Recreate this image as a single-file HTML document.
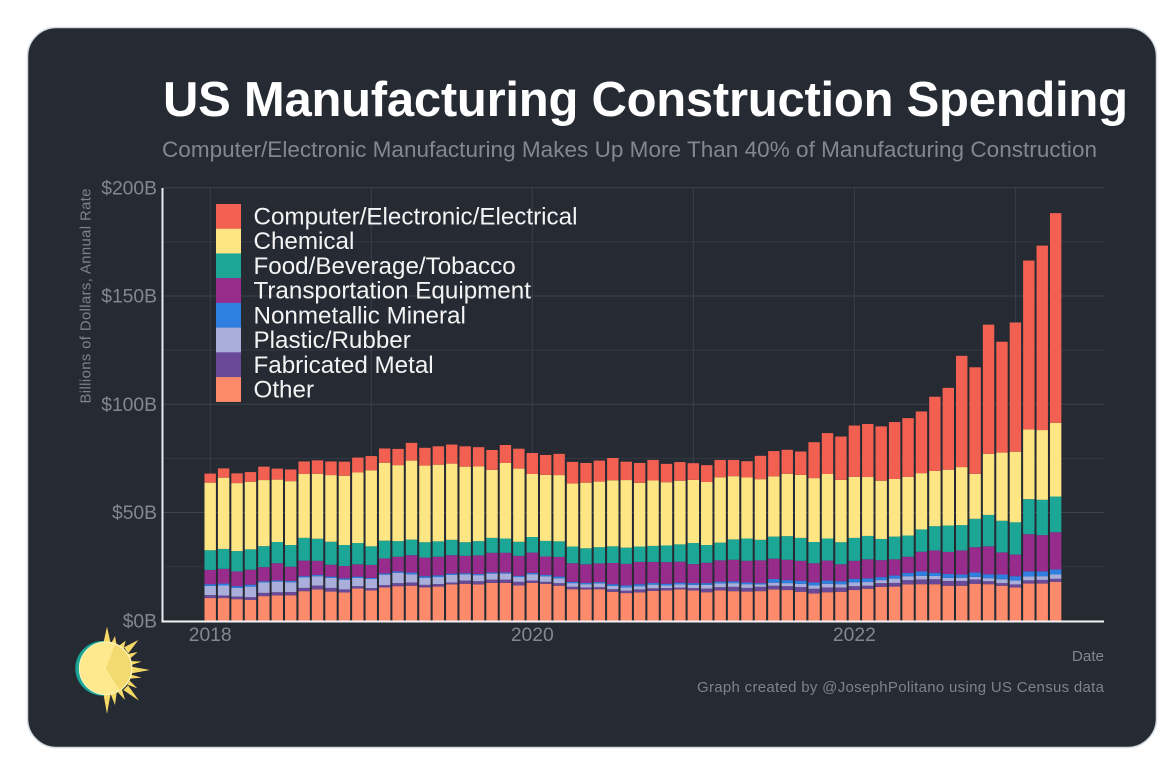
<!DOCTYPE html>
<html lang="en">
<head>
<meta charset="utf-8">
<title>US Manufacturing Construction Spending</title>
<style>
  html, body { margin: 0; padding: 0; width: 1172px; height: 770px; background: #ffffff; overflow: hidden; }
  svg { display: block; }
  text { font-family: "Liberation Sans", sans-serif; }
</style>
</head>
<body>
<svg id="chart" xmlns="http://www.w3.org/2000/svg" width="1172" height="770" viewBox="0 0 1172 770">
  <rect x="27.5" y="27.5" width="1129" height="720" rx="29" ry="29" fill="#252a33" stroke="#d3dbdf" stroke-width="1.5"/>
  <text x="163" y="116" font-size="49" font-weight="700" fill="#ffffff" textLength="965" lengthAdjust="spacing">US Manufacturing Construction Spending</text>
  <text x="162" y="157" font-size="22.5" fill="#84878e" textLength="935" lengthAdjust="spacing">Computer/Electronic Manufacturing Makes Up More Than 40% of Manufacturing Construction</text>
  <g id="grid"></g>
  <g id="bars"></g>
  <g id="axes"></g>
  <g id="legend"></g>
  <text transform="translate(90.5,296) rotate(-90)" text-anchor="middle" font-size="14.8" fill="#7f8289" textLength="215" lengthAdjust="spacing">Billions of Dollars, Annual Rate</text>
  <text x="1104" y="661" text-anchor="end" font-size="15.2" fill="#84878e">Date</text>
  <text x="1104" y="692" text-anchor="end" font-size="15" fill="#7f8289" textLength="407" lengthAdjust="spacing">Graph created by @JosephPolitano using US Census data</text>
  <g id="sun" transform="translate(60,610) scale(0.3333)">
    <circle cx="128" cy="175" r="82" fill="#1aa596"/>
    <polygon fill="#f6d965" points="130,100 141,50 152,100"/>
    <polygon fill="#f6d965" points="153,102 165,78 170,107"/>
    <polygon fill="#f6d965" points="176,108 197,92 190,120"/>
    <polygon fill="#f6d965" points="192,112 235,90 205,130"/>
    <polygon fill="#f6d965" points="203,132 233,126 210,146"/>
    <polygon fill="#f6d965" points="212,153 245,155 214,165"/>
    <polygon fill="#f6d965" points="214,170 270,180 214,190"/>
    <polygon fill="#f6d965" points="213,194 245,203 211,206"/>
    <polygon fill="#f6d965" points="209,212 232,235 202,224"/>
    <polygon fill="#f6d965" points="204,226 237,272 190,240"/>
    <polygon fill="#f6d965" points="186,238 195,270 174,247"/>
    <polygon fill="#f6d965" points="170,247 165,285 152,252"/>
    <polygon fill="#f6d965" points="152,250 141,312 130,250"/>
    <circle cx="137" cy="175" r="79" fill="#ffe98f" stroke="#fff4c0" stroke-width="3"/>
    <path d="M138,175 L165,104 A77,77 0 0 1 178,240 Z" fill="#f2da70"/>
  </g>
</svg>
<script>
const months = ["2018-01","2018-02","2018-03","2018-04","2018-05","2018-06","2018-07","2018-08","2018-09","2018-10","2018-11","2018-12",
"2019-01","2019-02","2019-03","2019-04","2019-05","2019-06","2019-07","2019-08","2019-09","2019-10","2019-11","2019-12",
"2020-01","2020-02","2020-03","2020-04","2020-05","2020-06","2020-07","2020-08","2020-09","2020-10","2020-11","2020-12",
"2021-01","2021-02","2021-03","2021-04","2021-05","2021-06","2021-07","2021-08","2021-09","2021-10","2021-11","2021-12",
"2022-01","2022-02","2022-03","2022-04","2022-05","2022-06","2022-07","2022-08","2022-09","2022-10","2022-11","2022-12",
"2023-01","2023-02","2023-03","2023-04"];

const other = [10.5,10.5,10.0,9.7,11.4,11.7,11.8,13.7,14.5,13.5,13.1,14.9,14.0,15.4,16.0,16.2,15.4,15.8,16.8,17.1,16.8,17.5,17.5,16.3,17.5,17.1,16.2,14.6,14.5,14.6,13.4,12.8,13.1,13.8,14.0,14.5,14.0,13.2,14.0,13.7,13.5,13.7,14.5,14.2,13.4,12.6,13.2,13.4,14.2,14.8,15.7,15.8,16.8,16.9,16.9,16.2,16.2,17.1,16.9,16.2,15.4,17.2,17.2,18.0];
const fabricatedMetal = [1.4,1.2,1.2,1.2,1.5,1.5,1.5,1.5,1.8,1.7,1.4,1.1,1.1,1.1,1.4,1.5,1.2,1.2,0.9,1.5,1.5,1.5,1.5,1.7,1.1,0.9,1.2,1.1,0.9,0.9,1.2,1.1,1.4,1.2,1.1,0.8,1.1,1.7,1.5,2.0,1.7,2.0,1.7,1.8,2.2,2.2,2.2,2.0,1.8,1.4,1.7,1.7,2.0,2.2,2.3,2.2,2.2,2.0,1.4,1.2,1.4,1.5,1.7,1.4];
const plasticRubber = [4.2,4.6,4.0,4.9,4.8,4.9,4.5,4.8,4.3,4.6,4.5,3.8,4.2,4.8,4.8,3.8,3.2,3.2,3.5,2.8,2.8,2.8,2.8,2.2,2.9,2.6,2.2,1.7,1.5,1.8,1.5,1.5,1.5,1.7,1.2,1.5,1.5,1.7,1.8,1.7,1.7,1.1,1.4,1.4,1.5,1.5,1.7,1.5,1.7,1.7,1.4,2.0,1.8,1.7,1.5,1.4,1.5,1.2,1.4,1.8,1.8,1.8,1.7,2.0];
const nonmetallicMineral = [0.8,0.9,0.8,0.9,0.6,0.5,0.6,0.6,0.6,0.6,0.6,0.6,0.5,0.6,0.6,0.8,0.8,0.8,0.6,0.6,0.5,0.5,0.5,0.6,0.6,0.6,0.8,0.6,0.6,0.6,0.8,0.9,0.9,0.8,0.8,0.8,0.8,0.8,0.8,0.8,0.8,0.6,1.7,1.4,1.4,1.4,1.5,1.4,1.7,1.7,1.4,1.4,1.5,2.0,1.5,1.8,1.5,2.0,1.8,2.2,2.0,2.3,2.2,2.3];
const transportation = [6.6,6.8,6.8,6.9,6.5,8.0,6.6,7.2,6.5,5.5,5.7,5.7,6.0,6.9,6.8,8.0,8.6,8.6,8.5,8.0,8.6,9.1,9.1,9.2,9.4,8.5,9.1,8.6,8.6,8.6,9.8,10.0,10.3,9.7,10.0,9.7,8.8,9.4,9.8,10.0,10.0,10.5,9.4,9.4,9.2,8.9,9.2,7.8,8.3,8.8,7.8,7.5,7.5,9.1,10.3,10.2,11.1,11.7,12.9,10.2,10.0,17.2,16.8,17.2];
const foodBeverage = [9.1,9.2,9.4,9.4,9.7,9.8,10.0,10.5,10.2,10.6,9.7,9.8,8.6,8.2,7.2,7.2,7.1,7.1,7.1,6.3,6.6,6.9,6.6,6.5,7.2,7.2,7.2,7.7,7.4,7.5,7.7,7.5,7.1,7.4,7.7,8.0,9.7,8.2,8.2,9.4,10.3,9.5,10.2,10.9,10.6,9.8,10.2,10.2,10.6,10.8,9.8,10.5,9.8,10.3,11.2,12.2,11.7,13.1,14.5,14.6,14.9,16.2,16.3,16.5];
const chemical = [31.2,32.9,31.4,31.2,30.5,28.8,29.5,29.5,30.0,30.8,32.0,32.6,35.1,36.0,35.1,36.5,35.4,35.4,35.2,34.9,34.5,31.4,34.9,33.8,29.1,30.5,30.6,29.1,30.3,30.3,30.5,31.2,29.4,30.2,29.2,29.4,29.2,29.1,30.2,29.2,28.2,28.0,27.8,28.8,29.1,29.5,29.8,28.8,28.2,27.2,26.9,26.6,27.1,26.0,25.5,25.8,26.8,20.8,28.2,31.5,32.6,32.2,32.2,34.0];
const computerElectronic = [4.2,4.3,4.5,4.5,6.2,5.1,5.4,5.8,6.2,6.3,6.5,6.9,6.6,6.6,7.5,8.2,8.2,8.5,8.8,9.4,8.9,9.2,8.3,9.2,9.7,9.2,9.8,10.0,9.1,9.7,10.3,8.5,9.2,9.5,8.5,8.6,7.7,7.8,8.0,7.5,7.5,10.8,11.7,11.1,10.8,16.6,18.9,20.0,23.7,24.5,25.1,26.3,27.1,28.5,34.3,37.8,51.4,49.2,59.7,51.2,59.7,78.0,85.2,96.9];

const seriesNames = ["Other","Fabricated Metal","Plastic/Rubber","Nonmetallic Mineral","Transportation Equipment","Food/Beverage/Tobacco","Chemical","Computer/Electronic/Electrical"];
const seriesColors = ["#fd8a6b","#6a4a98","#a9aedb","#2f7fe0","#982c8c","#1ba695","#fee685","#f26052"];
const seriesValues = [other,fabricatedMetal,plasticRubber,nonmetallicMineral,transportation,foodBeverage,chemical,computerElectronic];
const legendOrder = [7,6,5,4,3,2,1,0];
const yTicks = [0,50,100,150,200];
const yMinorTicks = [25,75,125,175];
const yTickLabels = ["$0B","$50B","$100B","$150B","$200B"];
const xGridYears = [2018,2019,2020,2021,2022,2023];
const xTickYears = [2018,2020,2022];

const NS = "http://www.w3.org/2000/svg";
function yScale(v) { return 620.8 - v * 2.165; }
function xScale(year, month) { return 210.2 + ((year - 2018) * 12 + (month - 1)) * 13.42; }
function xOfLabel(label) { const p = label.split("-"); return xScale(+p[0], +p[1]); }
function make(tag, attrs, parent) {
  const el = document.createElementNS(NS, tag);
  for (const k in attrs) el.setAttribute(k, attrs[k]);
  parent.appendChild(el);
  return el;
}

const gridG = document.getElementById("grid");
const barsG = document.getElementById("bars");
const axesG = document.getElementById("axes");
const legendG = document.getElementById("legend");

yTicks.concat(yMinorTicks).forEach(function (t) {
  const major = yTicks.indexOf(t) >= 0;
  const line = make("line", {x1: 163, x2: 1104, y1: yScale(t), y2: yScale(t), stroke: major ? "#3d424b" : "#343943", "stroke-width": 1}, gridG);
  
  
});
xGridYears.forEach(function (yr) {
  const line = make("line", {x1: xScale(yr, 1), x2: xScale(yr, 1), y1: 188, y2: 621, stroke: "#3a3f48", "stroke-width": 1}, gridG);
  
  
});

months.forEach(function (m, i) {
  let cum = 0;
  const cx = xOfLabel(m);
  seriesValues.forEach(function (vals, s) {
    const v = vals[i];
    const top = yScale(cum + v);
    const bottom = yScale(cum);
    const r = make("rect", {x: cx - 5.7, width: 11.4, y: top, height: bottom - top, fill: seriesColors[s]}, barsG);
    
    
    cum += v;
  });
});

const axisLeft = make("line", {x1: 162.5, x2: 162.5, y1: 188, y2: 622.5, stroke: "#e9eaec", "stroke-width": 2}, axesG);


const axisBottom = make("line", {x1: 161.5, x2: 1104, y1: 621.5, y2: 621.5, stroke: "#f1f2f3", "stroke-width": 2}, axesG);



yTicks.forEach(function (t, i) {
  const label = make("text", {x: 157, y: yScale(t) + 6.5, "text-anchor": "end", "font-size": 19.3, fill: "#84878e"}, axesG);
  
  
  label.textContent = yTickLabels[i];
});
xTickYears.forEach(function (yr) {
  const label = make("text", {x: xScale(yr, 1), y: 641, "text-anchor": "middle", "font-size": 19.3, fill: "#84878e"}, axesG);
  
  
  label.textContent = String(yr);
});

legendOrder.forEach(function (s, row) {
  const top = 204 + row * 24.72;
  const swatch = make("rect", {x: 216, y: top, width: 25, height: 24.9, fill: seriesColors[s]}, legendG);
  
  
  const label = make("text", {x: 253.5, y: top + 20.5, "font-size": 24.2, fill: "#f4f4f5"}, legendG);
  
  
  label.textContent = seriesNames[s];
});
</script>
</body>
</html>
